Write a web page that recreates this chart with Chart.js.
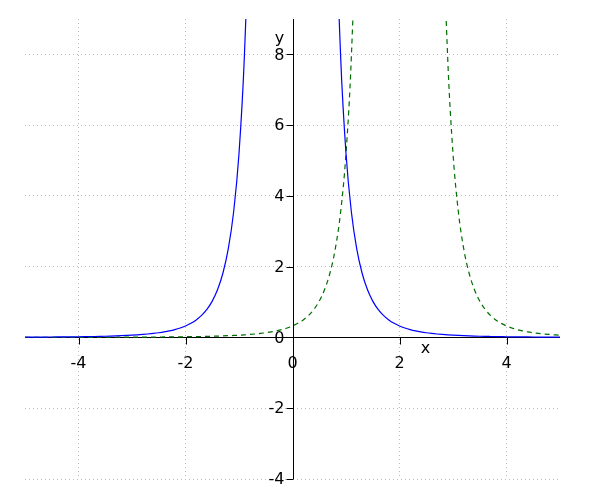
<!DOCTYPE html>
<html>
<head>
<meta charset="utf-8">
<script src="https://cdn.jsdelivr.net/npm/chart.js@4.4.0/dist/chart.umd.min.js"></script>
<style>
  html, body { margin: 0; padding: 0; background: #ffffff; }
  #wrap { width: 600px; height: 500px; }
</style>
</head>
<body>
<div id="wrap"><canvas id="c" width="600" height="500"></canvas></div>
<script>
// ---- data ----
const xValues = [
  -5.0,-4.9,-4.8,-4.7,-4.6,-4.5,-4.4,-4.3,-4.2,-4.1,
  -4.0,-3.9,-3.8,-3.7,-3.6,-3.5,-3.4,-3.3,-3.2,-3.1,
  -3.0,-2.9,-2.8,-2.7,-2.6,-2.5,-2.4,-2.3,-2.2,-2.1,
  -2.0,-1.9,-1.8,-1.7,-1.6,-1.5,-1.4,-1.3,-1.2,-1.1,
  -1.0,-0.9,-0.8,-0.7,-0.6,-0.5,-0.4,-0.3,-0.2,-0.1,
   0.0, 0.1, 0.2, 0.3, 0.4, 0.5, 0.6, 0.7, 0.8, 0.9,
   1.0, 1.1, 1.2, 1.3, 1.4, 1.5, 1.6, 1.7, 1.8, 1.9,
   2.0, 2.1, 2.2, 2.3, 2.4, 2.5, 2.6, 2.7, 2.8, 2.9,
   3.0, 3.1, 3.2, 3.3, 3.4, 3.5, 3.6, 3.7, 3.8, 3.9,
   4.0, 4.1, 4.2, 4.3, 4.4, 4.5, 4.6, 4.7, 4.8, 4.9,
   5.0
];
const blueSeries = [
  0.0083,0.0090,0.0098,0.0107,0.0116,0.0127,0.0139,0.0152,0.0167,0.0184,
  0.0203,0.0225,0.0249,0.0278,0.0310,0.0347,0.0389,0.0439,0.0496,0.0563,
  0.0642,0.0735,0.0846,0.0979,0.1138,0.1331,0.1567,0.1858,0.2220,0.2674,
  0.325,0.399,0.495,0.623,0.793,1.027,1.354,1.821,2.508,3.552,
  5.20,7.93,12.70,21.66,null,null,null,null,null,null,
  null,null,null,null,null,null,null,21.66,12.70,7.93,
  5.20,3.552,2.508,1.821,1.354,1.027,0.793,0.623,0.495,0.399,
  0.325,0.2674,0.2220,0.1858,0.1567,0.1331,0.1138,0.0979,0.0846,0.0735,
  0.0642,0.0563,0.0496,0.0439,0.0389,0.0347,0.0310,0.0278,0.0249,0.0225,
  0.0203,0.0184,0.0167,0.0152,0.0139,0.0127,0.0116,0.0107,0.0098,0.0090,
  0.0083
];
const greenSeries = [
  0.0022,0.0023,0.0024,0.0026,0.0027,0.0029,0.0031,0.0033,0.0035,0.0038,
  0.0040,0.0043,0.0046,0.0049,0.0053,0.0057,0.0061,0.0066,0.0071,0.0077,
  0.0083,0.0090,0.0098,0.0107,0.0116,0.0127,0.0139,0.0152,0.0167,0.0184,
  0.0203,0.0225,0.0249,0.0278,0.0310,0.0347,0.0389,0.0439,0.0496,0.0563,
  0.0642,0.0735,0.0846,0.0979,0.1138,0.1331,0.1567,0.1858,0.2220,0.2674,
  0.325,0.399,0.495,0.623,0.793,1.027,1.354,1.821,2.508,3.552,
  5.20,7.93,12.70,21.66,null,null,null,null,null,null,
  null,null,null,null,null,null,null,21.66,12.70,7.93,
  5.20,3.552,2.508,1.821,1.354,1.027,0.793,0.623,0.495,0.399,
  0.325,0.2674,0.2220,0.1858,0.1567,0.1331,0.1138,0.0979,0.0846,0.0735,
  0.0642
];
const xTickValues = [-4, -2, 0, 2, 4];
const yTickValues = [-4, -2, 0, 2, 4, 6, 8];
const xRange = [-5, 5];
const yRange = [-4, 9];
const xAxisTitle = 'x';
const yAxisTitle = 'y';

// ---- build ----
const toPoints = ys => xValues.map((x, i) => ({ x: x, y: ys[i] }));
const FONT = '16px "DejaVu Sans", sans-serif';

const originAxes = {
  id: 'originAxes',
  beforeDatasetsDraw(chart) {
    const { ctx, chartArea, scales } = chart;
    const xs = scales.x, ys = scales.y;
    const ox = Math.round(xs.getPixelForValue(0)) + 0.5;
    const oy = Math.round(ys.getPixelForValue(0)) + 0.5;
    ctx.save();
    ctx.strokeStyle = '#000000';
    ctx.lineWidth = 1;
    ctx.beginPath();
    ctx.moveTo(chartArea.left, oy); ctx.lineTo(chartArea.right, oy);
    ctx.moveTo(ox, chartArea.top); ctx.lineTo(ox, chartArea.bottom);
    // tick marks
    xTickValues.forEach(v => {
      const px = Math.round(xs.getPixelForValue(v)) + 0.5;
      ctx.moveTo(px, oy); ctx.lineTo(px, oy + 7);
    });
    yTickValues.forEach(v => {
      const py = Math.round(ys.getPixelForValue(v)) + 0.5;
      ctx.moveTo(ox - 7, py); ctx.lineTo(ox, py);
    });
    ctx.stroke();
    // tick labels
    ctx.fillStyle = '#000000';
    ctx.font = FONT;
    ctx.textAlign = 'center';
    ctx.textBaseline = 'middle';
    xTickValues.forEach(v => {
      ctx.fillText(String(v), xs.getPixelForValue(v), oy + 26);
    });
    ctx.textAlign = 'right';
    yTickValues.forEach(v => {
      ctx.fillText(String(v), ox - 9, ys.getPixelForValue(v) + 1);
    });
    // axis titles
    ctx.textAlign = 'center';
    ctx.textBaseline = 'alphabetic';
    ctx.fillText(xAxisTitle, ox + 132, oy + 15);
    ctx.fillText(yAxisTitle, ox - 14, chartArea.top + 24);
    ctx.restore();
  }
};

new Chart(document.getElementById('c'), {
  type: 'line',
  data: {
    datasets: [
      {
        label: 'blue',
        data: toPoints(blueSeries),
        borderColor: '#0000ff',
        borderWidth: 1.2,
        pointRadius: 0,
        cubicInterpolationMode: 'monotone',
        spanGaps: false,
        fill: false
      },
      {
        label: 'green',
        data: toPoints(greenSeries),
        borderColor: '#006e00',
        borderWidth: 1.2,
        borderDash: [5, 4],
        pointRadius: 0,
        cubicInterpolationMode: 'monotone',
        spanGaps: false,
        fill: false
      }
    ]
  },
  options: {
    responsive: false,
    devicePixelRatio: 1,
    animation: false,
    layout: { padding: { left: 25, right: 40, top: 19, bottom: 21 } },
    plugins: { legend: { display: false }, tooltip: { enabled: false } },
    scales: {
      x: {
        type: 'linear',
        min: xRange[0], max: xRange[1],
        afterBuildTicks: s => { s.ticks = xTickValues.filter(v => v !== 0).map(v => ({ value: v })); },
        ticks: { display: false },
        grid: { color: '#bdbdbd', drawTicks: false },
        border: { display: false, dash: [1, 3] }
      },
      y: {
        type: 'linear',
        min: yRange[0], max: yRange[1],
        afterBuildTicks: s => { s.ticks = yTickValues.filter(v => v !== 0).map(v => ({ value: v })); },
        ticks: { display: false },
        grid: { color: '#bdbdbd', drawTicks: false },
        border: { display: false, dash: [1, 3] }
      }
    }
  },
  plugins: [originAxes]
});
</script>
</body>
</html>
